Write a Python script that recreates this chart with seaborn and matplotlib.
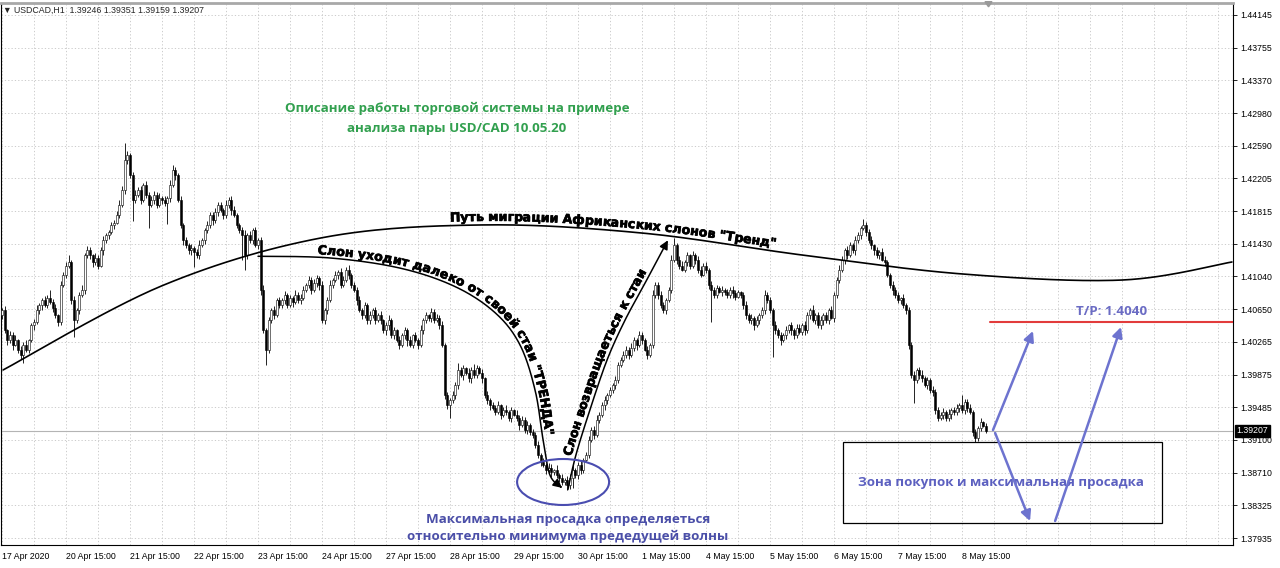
import numpy as np
import pandas as pd
import seaborn as sns
import matplotlib.pyplot as plt
import matplotlib.patheffects as pe
from matplotlib.patches import Ellipse, Rectangle, Polygon
from matplotlib.font_manager import FontProperties, findfont, get_font
from matplotlib.transforms import blended_transform_factory

# USDCAD H1, 17 Apr 2020 15:00 .. 8 May 2020, prices as pips above BASE
BASE = 1.3800
first_open = 258
close_pips = [
    264, 240, 228, 235, 223, 228, 217, 211, 223, 217, 228, 246, 250,
    264, 270, 276, 270, 278, 274, 267, 258, 250, 294, 306, 317, 321,
    276, 252, 264, 282, 288, 329, 335, 329, 321, 326, 317, 335,
    347, 353, 357, 365, 368, 377, 389, 407, 442, 448, 424, 395, 401,
    407, 395, 413, 401, 389, 395, 401, 389, 397, 395, 391, 397,
    413, 430, 424, 395, 365, 347, 341, 335, 338, 333, 329, 341, 347,
    359, 365, 377, 371, 380, 389, 383, 377, 389, 395, 383, 377,
    365, 359, 353, 329, 353, 347, 359, 341, 347, 288, 240, 217, 252,
    264, 258, 276, 270, 276, 282, 270, 278, 274, 282, 276, 279,
    288, 294, 300, 288, 296, 302, 294, 252, 264, 276,
    294, 300, 306, 309, 294, 300, 312, 306, 294, 288,
    276, 264, 258, 270, 252, 258, 264, 252,
    258, 252, 240, 246, 252, 234, 240, 228, 223, 234, 240, 228, 223, 234,
    228, 223, 240, 252, 258, 255, 262, 252, 255, 246, 223, 163,
    151, 157, 163, 175, 193, 187, 195, 190, 183, 193, 187, 195, 190, 183,
    163, 157, 151, 148, 143, 151, 140, 145, 143, 136, 145, 140,
    136, 128, 134, 122, 128, 119, 116, 104, 92, 84, 80, 74, 77, 72, 74,
    68, 65, 60, 62, 56, 65, 74, 68, 80, 74, 86, 92,
    110, 122, 116, 134, 140, 151, 157, 163, 169, 175, 181,
    199, 205, 211, 217, 211, 219, 228, 223, 234, 228, 217, 211, 223,
    282, 294, 282, 270, 264, 276, 288, 324, 341,
    324, 317, 312, 321, 329, 317, 329, 324, 312, 306, 317, 312,
    294, 288, 282, 290, 286, 288, 285, 282, 288, 284, 280, 285, 282,
    270, 258, 252, 255, 246, 252, 258, 264, 282, 276, 264,
    246, 240, 234, 228, 234, 240, 246, 240, 234, 243, 238, 246, 240,
    258, 264, 252, 258, 246, 252, 258, 252, 264, 255,
    282, 300, 312, 324, 335, 329, 341, 335, 347,
    353, 361, 365, 357, 347, 341, 335, 329, 333, 324, 321,
    306, 294, 288, 282, 276, 278, 270, 264, 223, 187,
    181, 193, 187, 183, 175, 181, 169, 167, 145, 136,
    140, 143, 136, 141, 145, 143, 148, 151, 145, 155, 148, 143,
    119, 112, 124, 131, 127, 121,
]
wick_up = [
    3, 5, 2, 4, 3, 6, 2, 4, 3, 5, 2, 3, 4, 6, 3, 2, 5, 4, 10, 3,
    4, 2, 5, 3, 4, 8, 3, 5, 2, 4, 6, 3, 5, 4, 2, 6, 3, 4, 5, 3,
    2, 4, 3, 5, 6, 4, 20, 5, 3, 4, 6, 3, 5, 2, 4, 3, 5, 4, 3, 6,
    2, 4, 3, 5, 6, 4, 3, 5, 2, 4, 3, 5, 2, 4, 6, 3, 2, 5, 4, 3,
    5, 3, 4, 2, 6, 3, 4, 5, 2, 3, 4, 6, 3, 5, 2, 4, 3, 4, 6, 3,
    4, 2, 5, 3, 4, 3, 5, 2, 4, 3, 6, 3, 4, 5, 2, 4, 3, 5, 4, 3,
    5, 3, 4, 6, 2, 4, 3, 5, 4, 3, 6, 2, 4, 3, 5, 3, 4, 2, 5, 3,
    4, 3, 5, 2, 4, 6, 3, 4, 2, 5, 3, 4, 3, 5, 2, 4, 3, 6, 3, 4,
    2, 5, 3, 4, 3, 5, 2, 4, 3, 5, 4, 8, 3, 4, 2, 5, 3, 7, 4, 3,
    4, 2, 5, 3, 4, 3, 5, 2, 4, 6, 3, 4, 2, 5, 3, 4, 3, 5, 2, 4,
    3, 5, 2, 4, 3, 5, 4, 2, 6, 3, 4, 3, 5, 4, 6, 3, 4, 5, 3, 4,
    5, 3, 4, 6, 3, 4, 5, 3, 4, 2, 5, 4, 3, 5, 4, 3, 6, 4, 3, 5,
    4, 3, 5, 2, 6, 4, 3, 5, 4, 3, 4, 6, 9, 3, 4, 5, 3, 4, 2, 5,
    3, 4, 5, 3, 4, 2, 5, 3, 4, 3, 5, 2, 4, 3, 5, 4, 3, 2, 4, 5,
    3, 4, 2, 5, 3, 4, 6, 3, 4, 2, 5, 3, 4, 3, 5, 2, 4, 3, 5, 4,
    3, 5, 4, 2, 6, 3, 4, 5, 3, 4, 2, 5, 4, 3, 6, 4, 3, 5, 4, 3,
    5, 4, 3, 7, 4, 3, 5, 2, 4, 3, 5, 4, 3, 2, 5, 3, 4, 2, 5, 3,
    4, 3, 5, 2, 4, 6, 3, 4, 2, 5, 3, 4, 3, 5, 2, 6, 3, 4, 5, 3,
    12, 4, 3, 5, 2, 4, 3, 5, 2, 3,
]
wick_dn = [
    4, 3, 5, 3, 6, 2, 4, 5, 10, 3, 4, 2, 5, 3, 4, 6, 2, 4, 3, 5,
    3, 5, 4, 2, 4, 3, 5, 20, 3, 4, 2, 5, 3, 4, 6, 3, 4, 2, 5, 3,
    4, 3, 5, 2, 4, 3, 5, 4, 3, 25, 4, 3, 5, 2, 4, 28, 3, 5, 4, 2,
    5, 3, 25, 4, 3, 5, 2, 4, 6, 3, 4, 5, 18, 3, 4, 2, 5, 3, 4, 6,
    3, 4, 2, 5, 3, 4, 6, 2, 4, 3, 30, 17, 4, 3, 5, 2, 4, 6, 3, 18,
    4, 3, 5, 2, 4, 3, 5, 4, 2, 6, 3, 4, 5, 3, 2, 4, 5, 3, 4, 6,
    3, 4, 5, 2, 4, 3, 5, 4, 3, 2, 5, 4, 3, 6, 2, 4, 3, 5, 4, 3,
    5, 2, 4, 3, 5, 6, 3, 4, 2, 5, 3, 4, 6, 3, 4, 2, 5, 3, 4, 3,
    4, 5, 3, 2, 4, 3, 5, 4, 15, 3, 5, 4, 2, 6, 3, 4, 5, 3, 4, 2,
    5, 3, 4, 6, 3, 4, 2, 5, 3, 4, 3, 5, 2, 4, 6, 3, 4, 5, 3, 4,
    4, 3, 5, 2, 4, 3, 6, 4, 3, 5, 4, 3, 6, 4, 12, 3, 5, 4, 3, 2,
    4, 3, 5, 2, 4, 3, 5, 4, 2, 3, 5, 4, 3, 2, 4, 5, 3, 4, 6, 3,
    4, 2, 5, 3, 4, 3, 5, 4, 3, 5, 2, 4, 3, 5, 4, 2, 3, 5, 4, 3,
    5, 4, 3, 2, 4, 5, 38, 3, 4, 2, 5, 3, 4, 3, 5, 4, 2, 3, 5, 4,
    3, 4, 5, 2, 4, 3, 5, 4, 3, 38, 4, 3, 5, 2, 4, 3, 5, 4, 3, 2,
    4, 5, 3, 4, 2, 5, 3, 4, 6, 3, 4, 2, 5, 3, 4, 3, 5, 4, 2, 3,
    5, 3, 4, 2, 5, 3, 4, 6, 3, 4, 2, 5, 3, 4, 6, 3, 4, 5, 3, 4,
    5, 4, 27, 3, 5, 4, 2, 4, 3, 5, 4, 3, 2, 5, 4, 3, 6, 4, 3, 5,
    3, 4, 5, 2, 4, 5, 3, 4, 2, 3,
]

price_ticks = [1.44145, 1.43755, 1.43370, 1.42980, 1.42590, 1.42205, 1.41815,
               1.41430, 1.41040, 1.40650, 1.40265, 1.39875, 1.39485, 1.39100,
               1.38710, 1.38325, 1.37935]
date_labels = ["17 Apr 2020", "20 Apr 15:00", "21 Apr 15:00", "22 Apr 15:00",
               "23 Apr 15:00", "24 Apr 15:00", "27 Apr 15:00", "28 Apr 15:00",
               "29 Apr 15:00", "30 Apr 15:00", "1 May 15:00", "4 May 15:00",
               "5 May 15:00", "6 May 15:00", "7 May 15:00", "8 May 15:00"]
last_price = 1.39207
header = "\u25bc USDCAD,H1  1.39246 1.39351 1.39159 1.39207"
take_profit = 1.4050

# hand drawn overlays as (bar, price)
trend_path = [(0.4, 1.3993), (60, 1.4093), (120, 1.4150), (180, 1.41652),
              (240, 1.41556), (300, 1.41295), (360, 1.41070), (420, 1.40998),
              (461.2, 1.41212)]
away_path = [(96.0, 1.4128), (123.0, 1.4126), (149.2, 1.4114), (169.9, 1.4092),
             (184.9, 1.4061), (194.2, 1.4023), (199.9, 1.3969), (202.9, 1.3910),
             (205.5, 1.3868), (210.0, 1.3853)]
back_path = [(212.2, 1.3851), (215.2, 1.3892), (220.5, 1.3946), (226.9, 1.4005),
             (233.6, 1.4052), (241.1, 1.4096), (249.7, 1.4147)]
blue_arrows = [((371.6, 1.39217), (386.6, 1.40393)),
               ((372.4, 1.39182), (385.5, 1.38137)),
               ((394.9, 1.38137), (419.6, 1.40440))]

n = len(close_pips)
assert len(wick_up) == n and len(wick_dn) == n, (n, len(wick_up), len(wick_dn))
c = BASE + np.array(close_pips) / 1e4
o = BASE + np.r_[first_open, close_pips[:-1]] / 1e4
df = pd.DataFrame({"bar": np.arange(n), "open": o, "close": c})
df["high"] = df[["open", "close"]].max(axis=1) + np.array(wick_up) / 1e4
df["low"] = df[["open", "close"]].min(axis=1) - np.array(wick_dn) / 1e4
df["bull"] = df["close"] >= df["open"]

sns.set_theme(style="white")
plt.rcParams["font.family"] = ["Liberation Sans", "DejaVu Sans"]

fig = plt.figure(figsize=(12.8, 5.68), dpi=100)
ax = fig.add_axes([0.00078, 0.0405, 0.9625, 0.9542])
ax.set_xlim(-0.375, 461.6)
ax.set_ylim(1.37852, 1.44287)

# grid
ax.set_xticks(np.arange(0, 24 * len(date_labels), 24))
ax.set_xticklabels(date_labels)
ax.set_xticks(np.arange(12, 462, 12), minor=True)
ax.set_yticks(price_ticks)
ax.set_yticklabels([f"{p:.5f}" for p in price_ticks])
ax.yaxis.tick_right()
ax.grid(True, which="both", color="#c4c4c4", lw=0.6, ls=(0, (1.5, 2.5)))
ax.tick_params(axis="both", which="major", labelsize=6.3, length=3, width=0.6,
               colors="black", pad=2)
ax.tick_params(axis="x", which="minor", length=0)
for lbl in ax.get_xticklabels():
    lbl.set_ha("left")
for side, sp in ax.spines.items():
    sp.set_color("black")
    sp.set_linewidth(0.8)
ax.spines["top"].set_color("#a8a8a8")
ax.spines["top"].set_linewidth(2)

ax.axhline(last_price, color="#b4b4b4", lw=0.8, zorder=1)

# candles
ax.vlines(df["bar"], df["low"], df["high"], color="black", lw=0.6, zorder=2)
body = (df["close"] - df["open"]).abs().clip(lower=0.00003)
bottom = df[["open", "close"]].min(axis=1)
for bull, face in [(True, "white"), (False, "black")]:
    m = df["bull"] == bull
    ax.bar(df["bar"][m], body[m], bottom=bottom[m], width=0.7, color=face,
           edgecolor="black", lw=0.4, zorder=3)

tr = blended_transform_factory(ax.transAxes, ax.transData)
ax.text(1.003, last_price, f"{last_price:.5f}", transform=tr, color="white",
        fontsize=6.3, va="center", ha="left",
        bbox=dict(boxstyle="square,pad=0.15", fc="black", ec="black"))
fig.text(3 / 1280, 1 - 10 / 568, header, fontsize=6.3, va="center", ha="left")
fig.add_artist(Polygon([(0.7695, 0.997), (0.7750, 0.997), (0.7723, 0.988)],
                       closed=True, color="#9a9a9a", transform=fig.transFigure))


def smooth(pts, k=30):
    P = np.asarray(pts, float)
    P = np.vstack([P[0], P, P[-1]])
    t = np.linspace(0, 1, k, endpoint=False)[:, None]
    out = []
    for i in range(1, len(P) - 2):
        p0, p1, p2, p3 = P[i - 1], P[i], P[i + 1], P[i + 2]
        out.append(0.5 * (2 * p1 + (p2 - p0) * t + (2 * p0 - 5 * p1 + 4 * p2 - p3) * t ** 2
                          + (3 * p1 - p0 - 3 * p2 + p3) * t ** 3))
    out.append(P[-2][None])
    return np.vstack(out)


def text_on_curve(curve, text, start, offset, fp, color):
    # one text per letter, set along the curve with its own rotation
    disp = ax.transData.transform(curve)
    d = np.diff(disp, axis=0)
    s = np.r_[0, np.cumsum(np.hypot(d[:, 0], d[:, 1]))]
    ang = np.unwrap(np.arctan2(d[:, 1], d[:, 0]))
    mids = (s[:-1] + s[1:]) / 2
    a = ax.transData.transform([start])[0]
    pos = s[np.argmin(np.hypot(*(disp - a).T))]
    font = get_font(findfont(fp))
    font.set_size(fp.get_size_in_points(), 72)
    k = fig.dpi / 72
    inv = ax.transData.inverted()
    for ch in text:
        g = font.load_char(ord(ch))
        adv = g.linearHoriAdvance / 65536 * k
        if ch != " ":
            mid = pos + (g.horiBearingX / 64 + g.width / 128) * k
            th = np.interp(mid, mids, ang)
            x = np.interp(mid, s, disp[:, 0]) - offset * np.sin(th)
            y = np.interp(mid, s, disp[:, 1]) + offset * np.cos(th)
            xd, yd = inv.transform((x, y))
            ax.text(xd, yd, ch, rotation=np.degrees(th), rotation_mode="anchor",
                    ha="center", va="baseline", fontproperties=fp, color=color, zorder=6,
                    path_effects=[pe.withStroke(linewidth=0.5, foreground=color)])
        pos += adv


bold = FontProperties(family="DejaVu Sans", weight="bold", size=9.0)

trend = smooth(trend_path)
ax.plot(trend[:, 0], trend[:, 1], color="black", lw=1.2, zorder=5)
text_on_curve(trend, 'Путь миграции Африканских слонов "Тренд"', (167.2, 1.4164), 4,
              bold, "black")

for path, txt, start, off in [
        (away_path, 'Слон уходит далеко от своей стаи "ТРЕНДА"', (118.5, 1.4131), 3),
        (back_path, "Слон возвращаеться к стаи", (214.9, 1.3888), 4)]:
    cv = smooth(path)
    ax.plot(cv[:-4, 0], cv[:-4, 1], color="black", lw=1.1, zorder=5)
    ax.annotate("", xy=cv[-1], xytext=cv[-6],
                arrowprops=dict(arrowstyle="-|>", color="black", lw=1.1,
                                mutation_scale=13, shrinkA=0, shrinkB=0), zorder=5)
    text_on_curve(cv, txt, start, off, bold, "black")

semi = dict(family="Open Sans", weight="bold", fontsize=9.6)
green = "#32a04f"
ax.text(170.6, 1.4304, "Описание работы торговой системы на примере", color=green,
        ha="center", va="center", **semi)
ax.text(170.6, 1.4280, "анализа пары USD/CAD 10.05.20", color=green,
        ha="center", va="center", **semi)

ax.add_patch(Ellipse((210.4, 1.3860), 34.5, 0.00546, fill=False, ec="#4a4db0", lw=1.5, zorder=6))
ax.text(212.2, 1.3816, "Максимальная просадка определяеться", color="#4b4fa8",
        ha="center", va="center", **semi)
ax.text(212.2, 1.3795, "относительно минимума предедущей волны", color="#4b4fa8",
        ha="center", va="center", **semi)

ax.add_patch(Rectangle((315.4, 1.38113), 119.6, 0.00962, fill=False, ec="black", lw=0.9, zorder=6))
ax.text(374.6, 1.3859, "Зона покупок и максимальная просадка", color="#5c60c0",
        ha="center", va="center", **semi)

ax.plot([370.5, 461.6], [take_profit, take_profit], color="#e23b3b", lw=1.5, zorder=6)
ax.text(416.2, 1.4063, "T/P: 1.4040", color="#6b6cc4", ha="center", va="center", **semi)

for start, end in blue_arrows:
    ax.annotate("", xy=end, xytext=start,
                arrowprops=dict(arrowstyle="-|>", color="#6d73cf", lw=1.8,
                                mutation_scale=15, shrinkA=0, shrinkB=0), zorder=7)

fig.savefig("out.png", dpi=100)
